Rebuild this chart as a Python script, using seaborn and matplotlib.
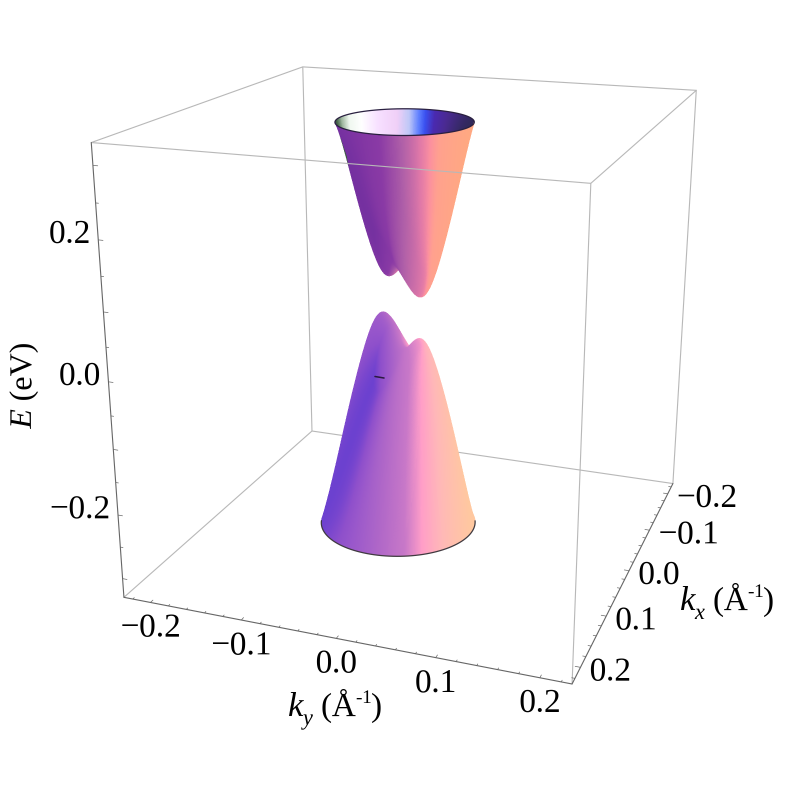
import numpy as np
import seaborn as sns
import matplotlib
matplotlib.use('Agg')
import matplotlib.pyplot as plt
from matplotlib.colors import LinearSegmentedColormap
from matplotlib.lines import Line2D
from matplotlib.transforms import offset_copy

sns.set_theme(style='white')
plt.rcParams['font.family'] = ['Liberation Serif', 'DejaVu Serif']
plt.rcParams['mathtext.fontset'] = 'custom'
plt.rcParams['mathtext.rm'] = 'Liberation Serif'
plt.rcParams['mathtext.it'] = 'Liberation Serif:italic'

K_MAX, E_MAX = 0.23, 0.33
k_ticks = [-0.2, -0.1, 0.0, 0.1, 0.2]
e_ticks = [-0.2, 0.0, 0.2]
k_minor = np.arange(-22, 23, 2) / 100
e_minor = np.arange(-6, 7) * 0.05

tip_half_sep = 0.056
tip_angle = np.deg2rad(44)
tip_round = 0.014
saddle_height = 0.04
saddle_width = 0.02
cone_slope = 5.3
e_tip_up, e_tip_low = 0.015, 0.024
e_mid = 0.044
ky_shift = -0.018
lean_up, lean_low = 0.002, -0.007
k_rim_up, k_rim_low = 0.0688, 0.0833
e_rim_up, e_rim_low = 0.274, 0.354
normal_mix_up, normal_mix_low = 0.25, 0.15

upper_pos = [-1, -.49, -.23, .03, .28, .54, .9, 1]
upper_col = ['#7430a0', '#8a3aa5', '#b060a8', '#df78a8', '#fb8fa0', '#ffa090', '#ffa882', '#ffa882']
lower_pos = [-1, -.77, -.32, 0, .26, .58, .94, 1]
lower_col = ['#6b40d0', '#8f50cc', '#b068c8', '#c878c8', '#ff9ec8', '#ffb8b8', '#ffc8a0', '#ffc8a0']
inner_pos = [-1, -.93, -.83, -.66, -.41, -.12, .07, .22, .32, .46, .66, 1]
inner_col = ['#3a5a40', '#a0b8a0', '#f0f8f0', '#ffffff', '#f8e0ff', '#f0d0f8', '#c0c8f8', '#6080ff',
             '#3a50f0', '#4a2ab0', '#4a2a90', '#30285a']

elev, azim, roll = 19.0029, 20.2337, 0.0102
SS = 3
PX = 0.72  # points per output pixel

fig = plt.figure(figsize=(7.88, 7.88), dpi=100 * SS)
ax = fig.add_axes([0.04529, 0.08710, 0.94940, 0.94940], projection='3d')
ax.set_xlim(-K_MAX, K_MAX, view_margin=0)
ax.set_ylim(-K_MAX, K_MAX, view_margin=0)
ax.set_zlim(-E_MAX, E_MAX, view_margin=0)
ax.set_axis_off()
ax.patch.set_visible(False)
ax.view_init(elev=elev, azim=azim, roll=roll)
ax.set_proj_type('persp', focal_length=np.exp(-0.9829))
ax.set_box_aspect((1, np.exp(0.0037), np.exp(0.0023)))
ax.computed_zorder = False

er, ar = np.deg2rad(elev), np.deg2rad(azim)
toward = np.array([np.cos(ar), np.sin(ar)])
right = np.array([-np.sin(ar), np.cos(ar)])


def band(kx, ky, e_tip):
    a = kx * np.cos(tip_angle) + ky * np.sin(tip_angle)
    b = -kx * np.sin(tip_angle) + ky * np.cos(tip_angle)
    over = np.maximum(np.abs(a) - tip_half_sep, 0)
    dist2 = over ** 2 + b ** 2
    inside = np.clip(1 - (a / tip_half_sep) ** 2, 0, None)
    bump = saddle_height * inside ** 2 * np.exp(-(b / saddle_width) ** 2)
    return e_tip + cone_slope * (np.sqrt(tip_round ** 2 + dist2) - tip_round) + bump


def cone(k_rim, e_rim, e_tip, sign, lean, mix, n_r=260, n_phi=520):
    phi = np.linspace(0, 2 * np.pi, n_phi)
    t = np.linspace(0, 1, n_r)
    T, P = np.meshgrid(t, phi)
    R = T * k_rim
    X, Y = R * np.cos(P), R * np.sin(P)
    h = 1e-4
    fx = (band(X + h, Y, e_tip) - band(X - h, Y, e_tip)) / (2 * h)
    fy = (band(X, Y + h, e_tip) - band(X, Y - h, e_tip)) / (2 * h)
    nl = np.sqrt(fx ** 2 + fy ** 2 + 1)
    u = (right[0] * fx + right[1] * fy) / nl
    pos = (right[0] * X + right[1] * Y) / np.maximum(R, 0.03)
    u_out = mix * u + (1 - mix) * pos
    far = (toward[0] * X + toward[1] * Y < 0) & (T > 0.82)
    # flatten towards the rim so the cut stays in one plane
    edge = band(k_rim * np.cos(P), k_rim * np.sin(P), e_tip)
    Z = band(X, Y, e_tip) + (e_rim - edge) * T ** 7
    return X, Y + ky_shift + lean * T ** 2, e_mid + sign * Z, (u_out + 1) / 2, (pos + 1) / 2, far


def cmap_of(pos, col):
    return LinearSegmentedColormap.from_list('c', [((a + 1) / 2, c) for a, c in zip(pos, col)], N=512)


# box
k = K_MAX
E = E_MAX
grey = '#b8b8b8'
dark = '#666666'
back_edges = [((-k, -k, -E), (-k, k, -E)), ((-k, -k, -E), (k, -k, -E)), ((-k, -k, -E), (-k, -k, E)),
              ((-k, -k, E), (-k, k, E)), ((-k, -k, E), (k, -k, E)), ((-k, k, -E), (-k, k, E))]
front_edges = [((k, -k, E), (k, k, E)), ((-k, k, E), (k, k, E)), ((k, k, -E), (k, k, E))]
axis_edges = [((k, -k, -E), (k, k, -E)), ((k, k, -E), (-k, k, -E)), ((k, -k, -E), (k, -k, E))]
for a, b in back_edges:
    ax.plot(*zip(a, b), color=grey, lw=0.8, zorder=1)
for a, b in front_edges:
    ax.plot(*zip(a, b), color=grey, lw=0.8, zorder=5)
for a, b in axis_edges:
    ax.plot(*zip(a, b), color=dark, lw=0.8, zorder=5)

# ticks
for v in k_minor:
    major = np.isclose(v * 10, np.round(v * 10))
    ln = 0.005 if major else 0.003
    ax.plot([k, k - ln], [v, v], [-E, -E], color=dark, lw=0.5, zorder=5)
    ax.plot([v, v], [k, k - ln], [-E, -E], color=dark, lw=0.5, zorder=5)
for v in e_minor:
    ln = 0.005 if int(round(v * 20)) % 2 == 0 else 0.003
    ax.plot([k, k], [-k, -k + ln], [v, v], color=dark, lw=0.5, zorder=5)

# surfaces
X, Y, Z, U, P_in, far = cone(k_rim_low, e_rim_low, e_tip_low, -1, lean_low, normal_mix_low)
fc = cmap_of(lower_pos, lower_col)(U)
ax.plot_surface(X, Y, Z, facecolors=fc, rstride=1, cstride=1, shade=False, linewidth=0.3,
                antialiased=False, zorder=2)
X, Y, Z, U, P_in, far = cone(k_rim_up, e_rim_up, e_tip_up, 1, lean_up, normal_mix_up)
fc = cmap_of(upper_pos, upper_col)(U)
fc_in = cmap_of(inner_pos, inner_col)(P_in)
fc[far] = fc_in[far]
ax.plot_surface(X, Y, Z, facecolors=fc, rstride=1, cstride=1, shade=False, linewidth=0.3,
                antialiased=False, zorder=3)

# rims
phi = np.linspace(0, 2 * np.pi, 300)
xr, yr = k_rim_up * np.cos(phi), k_rim_up * np.sin(phi)
ax.plot(xr, yr + ky_shift + lean_up, np.full_like(xr, e_mid + e_rim_up), color='#2a2040', lw=0.9, zorder=4)
phi = ar + np.linspace(-np.pi / 2, np.pi / 2, 200)
xr, yr = k_rim_low * np.cos(phi), k_rim_low * np.sin(phi)
ax.plot(xr, yr + ky_shift + lean_low, np.full_like(xr, e_mid - e_rim_low), color='#403a40', lw=0.9, zorder=4)

# small dark speck on the lower cone
fig.add_artist(Line2D([375 / 788, 384 / 788], [1 - 376.5 / 788, 1 - 378 / 788], color='#2a1a40', lw=1.1))

# labels
fs = 24
tr_y = offset_copy(ax.transData, fig=fig, x=0 * PX, y=-26 * PX, units='points')
tr_x = offset_copy(ax.transData, fig=fig, x=9 * PX, y=-5 * PX, units='points')
tr_e = offset_copy(ax.transData, fig=fig, x=-8 * PX, y=5 * PX, units='points')
for v in k_ticks:
    s = f'{v:.1f}'.replace('-', '\u2212')
    ax.text(k, v, -E, s, transform=tr_y, ha='center', va='center', fontsize=fs, color='black')
    ax.text(v, k, -E, s, transform=tr_x, ha='left', va='center', fontsize=fs, color='black')
for v in e_ticks:
    s = f'{v:.1f}'.replace('-', '\u2212')
    ax.text(k, -k, v, s, transform=tr_e, ha='right', va='center', fontsize=fs, color='black')


def piece(x, y, s, size, style='normal'):
    fig.text(x / 788, 1 - y / 788, s, fontsize=size, style=style, ha='left', va='baseline', color='black')


def k_label(x, y, sub):
    piece(x, y, 'k', 25, 'italic')
    piece(x + 15, y + 9, sub, 16, 'italic')
    piece(x + 33, y, '(\u00c5', 24)
    piece(x + 68, y - 13, '-1', 14)
    piece(x + 83, y, ')', 24)


k_label(288, 716, 'y')
k_label(680, 610, 'x')
fig.text(24 / 788, 1 - 386 / 788, r'$E$ (eV)', fontsize=23, rotation=90, ha='center', va='center', color='black')

# draw large and box-filter down for smooth edges
fig.canvas.draw()
img = np.asarray(fig.canvas.buffer_rgba())[..., :3].astype(float) / 255
h, w = img.shape[0] // SS, img.shape[1] // SS
small = img[:h * SS, :w * SS].reshape(h, SS, w, SS, 3).mean(axis=(1, 3))
plt.imsave('out.png', small)
